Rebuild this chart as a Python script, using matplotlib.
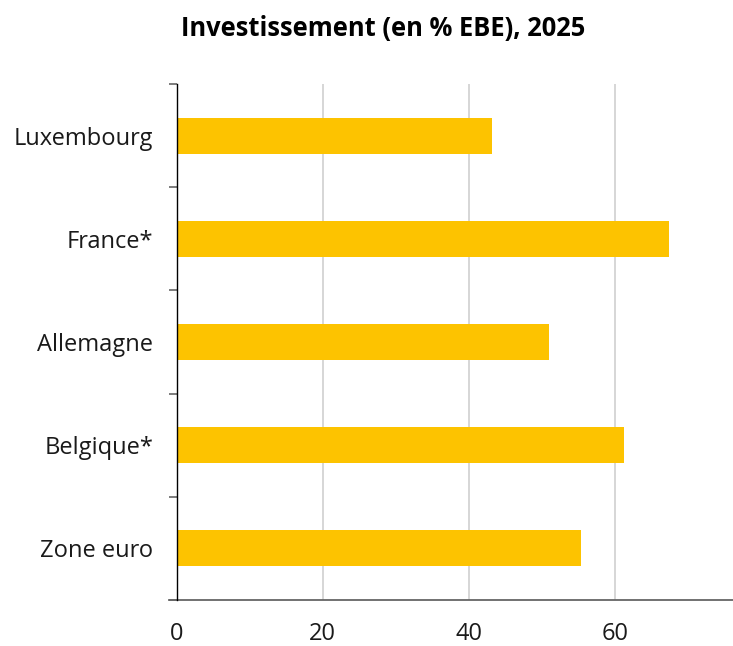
import os
import re
import matplotlib
matplotlib.use("Agg")
import matplotlib.pyplot as plt
from matplotlib.ticker import FixedLocator
from matplotlib import font_manager as fm

categories = ["Luxembourg", "France*", "Allemagne", "Belgique*", "Zone euro"]
values = [43.2, 67.4, 51.0, 61.2, 55.4]
xticks = [0, 20, 40, 60]
title = "Investissement (en % EBE), 2025"

plt.rcParams['font.family'] = ['Open Sans', 'DejaVu Sans']


def find_font(pattern):
    for f in fm.findSystemFonts():
        base = os.path.basename(f)
        if re.fullmatch(pattern, base, flags=re.I):
            return f
    return None


bold_file = find_font(r"OpenSans-Bold\.(ttf|otf)")
reg_file = find_font(r"OpenSans-Regular\.(ttf|otf)")

lab_size = 17
title_size = 18.4
if reg_file:
    lab_fp = fm.FontProperties(fname=reg_file, size=lab_size)
else:
    lab_fp = fm.FontProperties(family="Open Sans", size=lab_size)
if bold_file:
    title_fp = fm.FontProperties(fname=bold_file, size=title_size)
else:
    title_fp = fm.FontProperties(family="Open Sans", weight="bold", size=title_size)

fig = plt.figure(figsize=(7.33, 6.46), dpi=100)
ax = fig.add_axes([0.2412, 0.0712, 0.7588, 0.7988])

n = len(categories)
ypos = list(range(n))
ax.barh(ypos, values, height=0.35, color="#FDC300", zorder=3)
ax.set_ylim(n - 0.5, -0.5)
ax.set_xlim(0, 76.2)

ax.set_yticks(ypos)
ax.set_yticklabels(categories, fontproperties=lab_fp, color="#1a1a1a")
ax.tick_params(axis='y', which='major', length=0, pad=17)
ax.yaxis.set_minor_locator(FixedLocator([i - 0.5 for i in range(n + 1)]))
ax.tick_params(axis='y', which='minor', length=6, width=1.2, color="#666666")
minor_ticks = ax.yaxis.get_minor_ticks()
if minor_ticks:
    minor_ticks[0].tick1line.set_color("black")

ax.set_xticks(xticks)
ax.set_xticklabels([str(t) for t in xticks], fontproperties=lab_fp, color="#1a1a1a")
ax.tick_params(axis='x', length=0, pad=16)

for t in xticks[1:]:
    ax.axvline(t, color="#d0d0d0", lw=1.2, zorder=1)

for s in ["top", "right"]:
    ax.spines[s].set_visible(False)
ax.spines["left"].set_color("black")
ax.spines["left"].set_linewidth(1)
ax.spines["left"].set_zorder(4)
ax.spines["bottom"].set_color("#666666")
ax.spines["bottom"].set_linewidth(1.3)
ax.spines["bottom"].set_bounds(-1.1, 76.2)
ax.spines["bottom"].set_clip_on(False)

fig.text(0.523, 0.956, title, ha="center", va="center", fontproperties=title_fp, color="black")

fig.savefig("out.png", dpi=100)
